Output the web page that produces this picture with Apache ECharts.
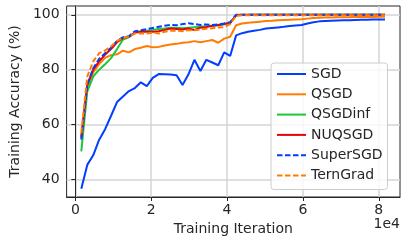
<!DOCTYPE html>
<html><head><meta charset="utf-8">
<script src="https://cdn.jsdelivr.net/npm/echarts@6/dist/echarts.min.js"></script>
<style>html,body{margin:0;padding:0;background:#fff}#c{width:407px;height:241px}</style>
</head><body><div id="c"></div>
<script>
const iterations = [1570,3140,4710,6280,7850,9420,10990,12560,14130,15700,17270,18840,20410,21980,23550,25120,26690,28260,29830,31400,32970,34540,36110,37680,39250,40820,42390,43960,45530,47100,48670,50240,51810,53380,54950,56520,58090,59660,61230,62800,64370,65940,67510,69080,70650,72220,73790,75360,76930,78500,80070,81640];
const sgd = [36.6,45.3,48.8,54.5,58.3,63.2,68.2,70.2,72.2,73.3,75.4,74.0,77.0,78.4,78.3,78.2,78.0,74.4,78.3,83.6,79.5,83.6,82.6,81.6,86.3,85.0,92.5,93.3,93.8,94.2,94.5,95.0,95.2,95.4,95.6,95.9,96.1,96.3,96.8,97.3,97.6,97.7,97.8,97.9,98.0,98.0,98.1,98.2,98.2,98.3,98.3,98.3];
const qsgd = [55.0,73.5,79.0,82.0,84.3,85.3,85.6,86.9,86.3,87.5,88.0,88.6,88.2,88.3,88.8,89.2,89.4,89.8,90.0,90.4,90.0,90.4,90.8,89.8,91.3,92.0,96.2,96.8,97.1,97.3,97.5,97.7,97.8,98.0,98.1,98.2,98.3,98.4,98.6,98.8,98.9,99.0,99.0,99.1,99.1,99.1,99.2,99.2,99.2,99.2,99.3,99.3];
const qsgdinf = [50.2,72.0,77.5,80.0,82.0,84.2,87.5,91.0,91.8,93.5,94.0,94.2,94.5,94.8,95.0,95.3,95.3,95.1,95.3,95.5,95.6,95.8,96.0,96.2,96.5,97.0,99.8,99.9,99.9,100,100,100,100,100,100,100,100,100,100,100,100,100,100,100,100,100,100,100,100,100,100,100];
const nuqsgd = [55.5,74.5,80.0,83.0,85.5,87.5,90.0,91.5,92.0,93.5,93.8,93.8,93.8,94.0,94.5,95.0,94.8,94.6,95.0,94.4,95.3,95.5,96.0,96.3,96.7,97.0,99.9,100,100,100,100,100,100,100,100,100,100,100,100,100,100,100,100,100,100,100,100,100,100,100,100,100];
const supersgd = [54.5,74.5,80.5,84.0,86.0,88.0,90.5,91.8,92.2,94.0,94.4,94.8,95.2,95.6,96.0,96.3,96.2,96.6,96.9,96.6,96.3,96.5,96.3,96.5,96.8,97.3,100,100,100,100,100,100,100,100,100,100,100,100,100,100,100,100,100,100,100,100,100,100,100,100,100,100];
const terngrad = [57.0,77.5,83.0,86.0,87.0,88.5,90.5,91.5,92.0,93.2,93.2,93.2,93.5,93.2,93.8,94.2,94.2,94.0,94.4,94.4,94.6,94.9,95.1,95.4,95.5,96.6,99.6,99.8,99.8,99.8,99.8,99.8,99.8,99.8,99.8,99.8,99.8,99.8,99.8,99.8,99.8,99.8,99.8,99.8,99.8,99.8,99.8,99.8,99.8,99.8,99.8,99.8];
const xTicks = [0,20000,40000,60000,80000];
const yTicks = [40,60,80,100];

const FONT = 'DejaVu Sans';
const pairs = arr => arr.map((v,i)=>[iterations[i], v]);
const seriesDefs = [
  {name:'SGD', data:sgd, color:'#023eff', type:'solid'},
  {name:'QSGD', data:qsgd, color:'#ff7c00', type:'solid'},
  {name:'QSGDinf', data:qsgdinf, color:'#1ac938', type:'solid'},
  {name:'NUQSGD', data:nuqsgd, color:'#e8000b', type:'solid'},
  {name:'SuperSGD', data:supersgd, color:'#023eff', type:[5.5,2.5]},
  {name:'TernGrad', data:terngrad, color:'#ff7c00', type:[5.5,2.5]}
];
const chart = echarts.init(document.getElementById('c'), null, {renderer:'canvas'});
chart.setOption({
  animation:false,
  grid:{left:57, right:7, top:6, bottom:44, show:true, borderColor:'#262626', borderWidth:1, backgroundColor:'transparent'},
  xAxis:{type:'value', min:-2300, max:85600,
    name:'Training Iteration', nameLocation:'middle', nameGap:17,
    nameTextStyle:{fontFamily:FONT, fontSize:14, color:'#262626'},
    axisLine:{show:true, lineStyle:{color:'#262626', width:1}},
    axisTick:{show:true, length:4, inside:false, customValues:xTicks, lineStyle:{color:'#262626'}},
    axisLabel:{customValues:xTicks, margin:6, fontFamily:FONT, fontSize:14, color:'#262626', formatter:v=>String(v/10000)},
    splitLine:{show:true, lineStyle:{color:'#d4d4d4', width:1.5}}},
  yAxis:{type:'value', min:33.6, max:103.2,
    name:'Training Accuracy (%)', nameLocation:'middle', nameGap:40,
    nameTextStyle:{fontFamily:FONT, fontSize:14, color:'#262626'},
    axisLine:{show:true, lineStyle:{color:'#262626', width:1}},
    axisTick:{show:true, length:4, inside:false, customValues:yTicks, lineStyle:{color:'#262626'}},
    axisLabel:{customValues:yTicks, margin:7, fontFamily:FONT, fontSize:14, color:'#262626'},
    splitLine:{show:true, lineStyle:{color:'#d4d4d4', width:1.5}}},
  legend:{show:true, orient:'vertical', left:271, top:63, padding:[4,5,7,5], itemWidth:29, itemHeight:14, itemGap:6.3, itemTextGap:11,
    backgroundColor:'rgba(255,255,255,0.8)', borderColor:'#cccccc', borderWidth:1, borderRadius:3,
    itemStyle:{color:'transparent', borderWidth:0, opacity:0},
    lineStyle:{width:2},
    textStyle:{fontFamily:FONT, fontSize:14, color:'#262626'},
    data:seriesDefs.map(s=>s.name)},
  graphic:[{type:'text', right:7, top:217, style:{text:'1e4', font:'14px "DejaVu Sans"', fill:'#262626'}}],
  series:seriesDefs.map(s=>({name:s.name, type:'line', data:pairs(s.data), showSymbol:false, symbol:'none',
    color:s.color, itemStyle:{color:s.color}, lineStyle:{color:s.color, width:2, type:s.type}}))
});
</script></body></html>
